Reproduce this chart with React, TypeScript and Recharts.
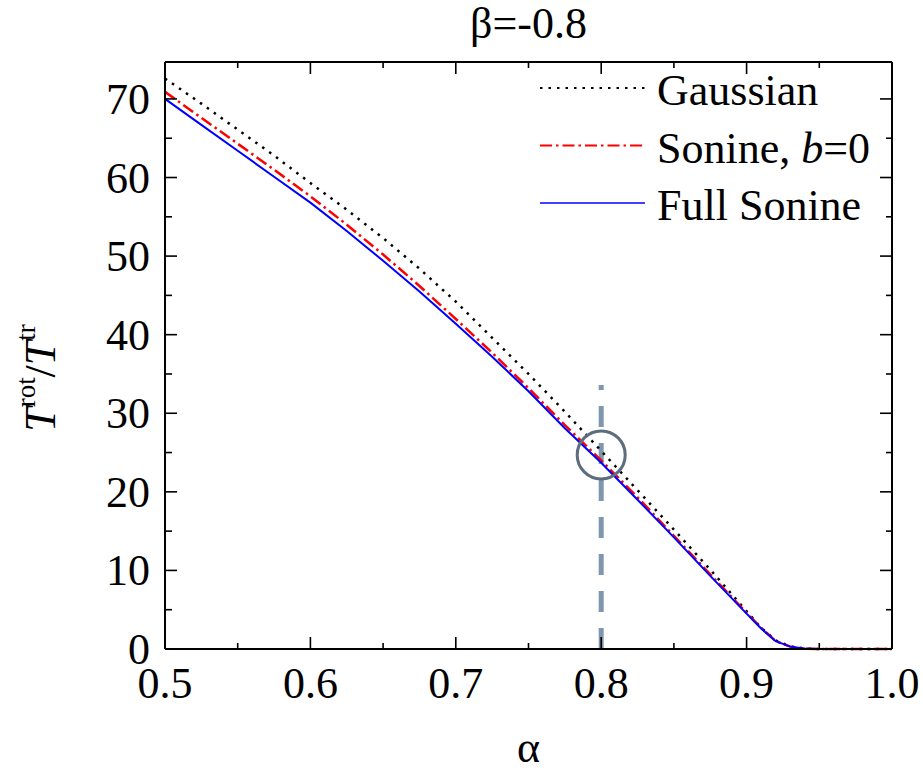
import React from 'react';
import { LineChart, Line, XAxis, YAxis, ReferenceLine, ReferenceDot, Label } from 'recharts';

const alpha = [0.5, 0.525, 0.55, 0.575, 0.6, 0.625, 0.65, 0.675, 0.7, 0.725, 0.75, 0.775, 0.8, 0.825, 0.85, 0.875, 0.9, 0.91, 0.92, 0.93, 0.94, 0.95, 0.975, 1.0];
const gaussian = [72.6, 69.4, 66.1, 62.8, 59.3, 55.9, 52.3, 48.4, 44.2, 39.6, 35.0, 30.2, 25.2, 20.2, 15.2, 10.1, 4.8, 2.7, 1.1, 0.35, 0.05, 0, 0, 0];
const sonineB0 = [70.9, 67.6, 64.3, 61.0, 57.6, 54.0, 50.2, 46.2, 42.0, 37.7, 33.2, 28.5, 24.0, 19.3, 14.4, 9.5, 4.6, 2.7, 1.0, 0.3, 0.05, 0, 0, 0];
const fullSonine = [70.0, 66.7, 63.4, 60.1, 56.8, 53.2, 49.4, 45.5, 41.4, 37.2, 32.8, 28.1, 23.7, 19.0, 14.2, 9.3, 4.5, 2.6, 1.0, 0.3, 0.05, 0, 0, 0];

const xTicks = [0.5, 0.55, 0.6, 0.65, 0.7, 0.75, 0.8, 0.85, 0.9, 0.95, 1.0];
const yTicks = [0, 5, 10, 15, 20, 25, 30, 35, 40, 45, 50, 55, 60, 65, 70];

const data = alpha.map((a, i) => ({
  alpha: a,
  gaussian: gaussian[i],
  sonineB0: sonineB0[i],
  fullSonine: fullSonine[i],
}));

const series = [
  { key: 'gaussian', name: 'Gaussian', color: '#000000', width: 2.5, dash: '2.5 6' },
  { key: 'sonineB0', name: 'Sonine, ', italic: 'b', tail: '=0', color: '#ff0000', width: 2.5, dash: '12 4 2.5 4' },
  { key: 'fullSonine', name: 'Full Sonine', color: '#0000ff', width: 2, dash: undefined },
];

const FONT = '"Liberation Serif", "Times New Roman", serif';
const isMajorX = (v: number) => Math.abs(v * 10 - Math.round(v * 10)) < 1e-6;
const isMajorY = (v: number) => v % 10 === 0;

const BottomTick = (props: any) => {
  const { x, y, payload } = props;
  const major = isMajorX(payload.value);
  return (
    <g>
      <line x1={x} x2={x} y1={y} y2={y - (major ? 12 : 6)} stroke="#000" strokeWidth={1.6} />
      {major && (
        <text x={x} y={y + 49} textAnchor="middle" fontFamily={FONT} fontSize={44} fill="#000">
          {payload.value.toFixed(1)}
        </text>
      )}
    </g>
  );
};

const TopTick = (props: any) => {
  const { x, y, payload } = props;
  const major = isMajorX(payload.value);
  return <line x1={x} x2={x} y1={y} y2={y + (major ? 12 : 6)} stroke="#000" strokeWidth={1.6} />;
};

const LeftTick = (props: any) => {
  const { x, y, payload } = props;
  const major = isMajorY(payload.value);
  return (
    <g>
      <line x1={x} x2={x + (major ? 12 : 7)} y1={y} y2={y} stroke="#000" strokeWidth={1.6} />
      {major && (
        <text x={x - 15} y={y + 15} textAnchor="end" fontFamily={FONT} fontSize={44} fill="#000">
          {payload.value}
        </text>
      )}
    </g>
  );
};

const RightTick = (props: any) => {
  const { x, y, payload } = props;
  const major = isMajorY(payload.value);
  return <line x1={x} x2={x - (major ? 12 : 6)} y1={y} y2={y} stroke="#000" strokeWidth={1.6} />;
};

const LegendBox = () => (
  <svg width={380} height={190} style={{ position: 'absolute', left: 530, top: 62, overflow: 'visible' }}>
    {series.map((s, i) => {
      const cy = 26 + i * 57.5;
      return (
        <g key={s.key}>
          <line x1={10} x2={115} y1={cy} y2={cy} stroke={s.color} strokeWidth={s.width - 0.5} strokeDasharray={s.dash} />
          <text x={127} y={cy + 17} fontFamily={FONT} fontSize={44} fill="#000">
            {s.name}
            {s.italic && <tspan fontStyle="italic">{s.italic}</tspan>}
            {s.tail}
          </text>
        </g>
      );
    })}
  </svg>
);

const YLabel = () => (
  <text transform="translate(55,378) rotate(-90)" textAnchor="middle" fontFamily={FONT} fontSize={44} fill="#000">
    <tspan fontStyle="italic">T</tspan>
    <tspan fontSize={27} dy={-20}>rot</tspan>
    <tspan dy={20}>/</tspan>
    <tspan fontStyle="italic">T</tspan>
    <tspan fontSize={27} dy={-20}>tr</tspan>
  </text>
);

export default function App() {
  return (
    <div style={{ position: 'absolute', left: 0, top: 0, width: 923, height: 776, background: '#fff' }}>
      <LineChart width={923} height={776} data={data} margin={{ top: 42, right: 11, bottom: 67, left: 105 }}>
        <XAxis
          xAxisId="bottom"
          dataKey="alpha"
          type="number"
          domain={[0.5, 1.0]}
          ticks={xTicks}
          interval={0}
          height={60}
          tickSize={0}
          tickMargin={0}
          tick={<BottomTick />}
          tickLine={false}
          axisLine={{ stroke: '#000', strokeWidth: 2 }}
        >
          <Label value="α" position="bottom" offset={22} fontFamily={FONT} fontSize={44} fill="#000" />
        </XAxis>
        <XAxis
          xAxisId="top"
          orientation="top"
          dataKey="alpha"
          type="number"
          domain={[0.5, 1.0]}
          ticks={xTicks}
          interval={0}
          height={20}
          tickSize={0}
          tickMargin={0}
          tick={<TopTick />}
          tickLine={false}
          axisLine={{ stroke: '#000', strokeWidth: 2 }}
        >
          <Label value="β=-0.8" position="top" offset={4} fontFamily={FONT} fontSize={44} fill="#000" />
        </XAxis>
        <YAxis
          yAxisId="left"
          type="number"
          domain={[0, 74.7]}
          ticks={yTicks}
          interval={0}
          width={60}
          tickSize={0}
          tickMargin={0}
          tick={<LeftTick />}
          tickLine={false}
          axisLine={{ stroke: '#000', strokeWidth: 2 }}
          label={<YLabel />}
        />
        <YAxis
          yAxisId="right"
          orientation="right"
          type="number"
          domain={[0, 74.7]}
          ticks={yTicks}
          interval={0}
          width={20}
          tickSize={0}
          tickMargin={0}
          tick={<RightTick />}
          tickLine={false}
          axisLine={{ stroke: '#000', strokeWidth: 2 }}
        />
        <ReferenceLine
          xAxisId="bottom"
          yAxisId="left"
          segment={[{ x: 0.8, y: 0 }, { x: 0.8, y: 33.6 }]}
          stroke="#7f97ae"
          strokeWidth={5}
          strokeDasharray="21 16"
        />
        {series.map((s) => (
          <Line
            key={s.key}
            xAxisId="bottom"
            yAxisId="left"
            type="linear"
            dataKey={s.key}
            name={s.name}
            stroke={s.color}
            strokeWidth={s.width}
            strokeDasharray={s.dash}
            dot={false}
            activeDot={false}
            isAnimationActive={false}
          />
        ))}
        <Line xAxisId="top" yAxisId="right" dataKey="fullSonine" stroke="none" dot={false} activeDot={false} legendType="none" isAnimationActive={false} />
        <ReferenceDot xAxisId="bottom" yAxisId="left" x={0.8} y={24.7} r={24} fill="none" stroke="#5d6d7e" strokeWidth={3} />
      </LineChart>
      <LegendBox />
    </div>
  );
}
